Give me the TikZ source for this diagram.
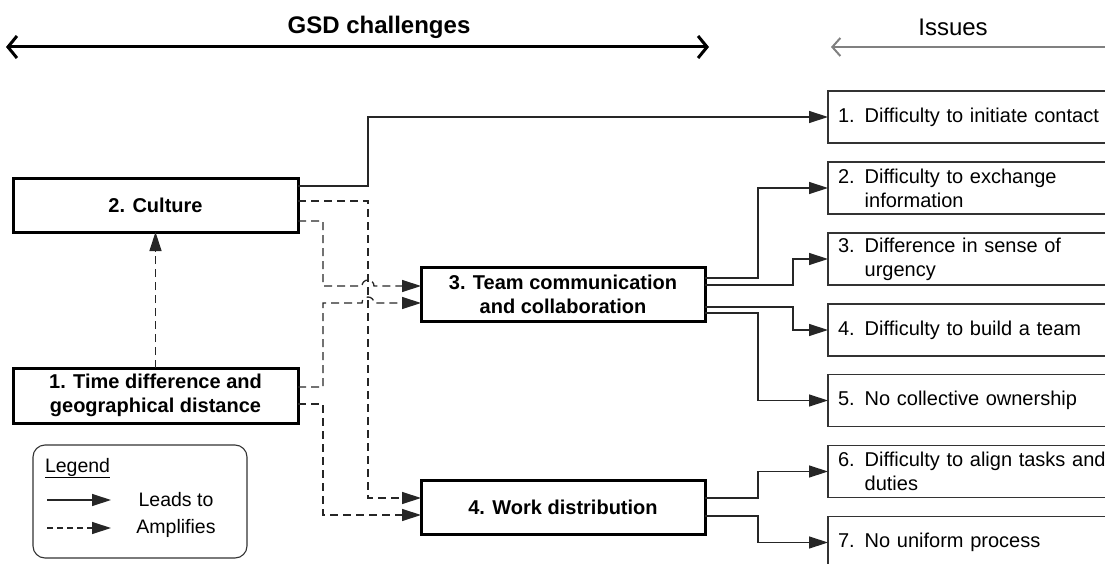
\documentclass[tikz,border=0pt]{standalone}
\usepackage{fontspec}
\setmainfont{Liberation Sans}
\usetikzlibrary{arrows.meta}

\begin{document}
\begin{tikzpicture}[x=1pt,y=-1pt,
  every node/.style={inner sep=0pt, outer sep=0pt},
  challenge/.style={draw, line width=3pt, minimum width=285pt, minimum height=53pt,
    align=center, font=\fontsize{20}{24}\selectfont\bfseries},
  issue/.style={draw=black!80, line width=1.2pt, anchor=west, minimum height=52pt,
    text width=272pt, inner xsep=10pt, align=left, font=\fontsize{20}{24}\selectfont},
  conn/.style={draw=black!85, line width=1.3pt, -{Triangle[length=19pt,width=12pt]}},
  amp/.style={conn, dash pattern=on 8pt off 5pt},
  barb/.tip={Straight Barb[length=9pt,width=22pt]}
]
\useasboundingbox (0,0) rectangle (1105,564);
\clip (0,0) rectangle (1105,564);

% header arrows
\coordinate (gsdL) at (6,47);
\coordinate (gsdR) at (709,47);
\coordinate (issR) at (1112,47);
\coordinate (issL) at (831,47);
\draw[line width=3pt, barb-barb] (gsdL) -- (gsdR);
\draw[black!50, line width=2pt, -{Straight Barb[length=8pt,width=18pt]}] (issR) -- (issL);
\node (gsd) at (379,27) {\fontsize{24}{28}\selectfont\bfseries GSD challenges};
\node (issues) at (953,27) {\fontsize{24}{28}\selectfont Issues};

% challenges
\node[challenge] (culture) at (155.5,205.5) {2. Culture};
\node[challenge, minimum height=55pt] (time) at (155.5,395.5) {1. Time difference and\\geographical distance};
\node[challenge, minimum width=284pt, minimum height=54pt] (team) at (563,294) {3. Team communication\\and collaboration};
\node[challenge, minimum width=284pt, minimum height=54pt] (work) at (563,507) {4. Work distribution};

% issues
\node[issue] (i1) at (828,117) {1. Difficulty to initiate contact};
\node[issue] (i2) at (828,188) {2. Difficulty to exchange\\\phantom{2. }information};
\node[issue] (i3) at (828,259) {3. Difference in sense of\\\phantom{3. }urgency};
\node[issue] (i4) at (828,330) {4. Difficulty to build a team};
\node[issue] (i5) at (828,400.5) {5. No collective ownership};
\node[issue] (i6) at (828,471.5) {6. Difficulty to align tasks and\\\phantom{6. }duties};
\node[issue] (i7) at (828,542.5) {7. No uniform process};

% leads-to connectors
\draw[conn] ([yshift=19.5pt]culture.east) -- ++(70,0) |- (i1.west);
\draw[conn] ([yshift=16pt]team.east) -- ++(53,0) |- (i2.west);
\draw[conn] ([yshift=9pt]team.east) -- ++(88,0) |- (i3.west);
\draw[conn] ([yshift=-13pt]team.east) -- ++(88,0) |- (i4.west);
\draw[conn] ([yshift=-19pt]team.east) -- ++(53,0) |- (i5.west);
\draw[conn] ([yshift=9pt]work.east) -- ++(53,0) |- (i6.west);
\draw[conn] ([yshift=-9pt]work.east) -- ++(53,0) |- (i7.west);

% amplifies connectors
\draw[amp] (time.north) -- (culture.south);
\draw[amp] ([yshift=4.5pt]culture.east) -- ++(70,0) |- ([yshift=9pt]work.west);
\draw[amp] ([yshift=-15.5pt]culture.east) -- ++(25,0) |- (362,286)
  arc[start angle=180, end angle=0, radius=6pt] -- ([yshift=8pt]team.west);
\draw[amp] ([yshift=8.5pt]time.east) -- ++(25,0) |- (362,303)
  arc[start angle=180, end angle=0, radius=6pt] -- ([yshift=-9pt]team.west);
\draw[amp] ([yshift=-8.5pt]time.east) -- ++(25,0) |- ([yshift=-8pt]work.west);

% legend
\node[draw=black!80, line width=1.1pt, rounded corners=12pt, minimum width=214pt, minimum height=113pt] (legend) at (140,501.5) {};
\node[anchor=west, font=\fontsize{19.5}{23}\selectfont] (legendtitle) at (45,468) {\underline{Legend}};
\coordinate (la1) at (47,500);
\coordinate (lb1) at (111,500);
\coordinate (la2) at (47,528);
\coordinate (lb2) at (111,528);
\draw[conn] (la1) -- (lb1);
\draw[amp, dash pattern=on 6pt off 4pt] (la2) -- (lb2);
\node[font=\fontsize{19.5}{23}\selectfont] (leads) at (176,500) {Leads to};
\node[font=\fontsize{19.5}{23}\selectfont] (amplifies) at (176,528) {Amplifies};
\end{tikzpicture}
\end{document}
